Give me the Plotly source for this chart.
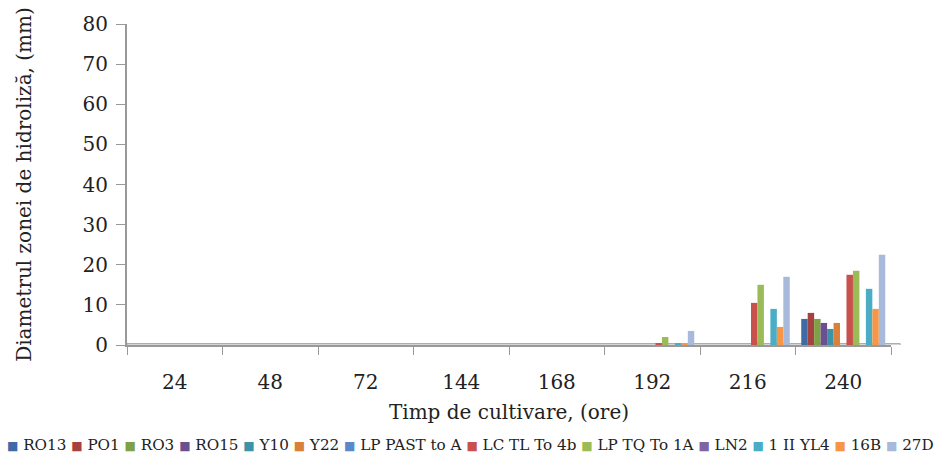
import plotly.graph_objects as go

# Cultivation time categories (hours)
categories = ["24", "48", "72", "144", "168", "192", "216", "240"]

strains = ["RO13", "PO1", "RO3", "RO15", "Y10", "Y22", "LP PAST to A",
           "LC TL To 4b", "LP TQ To 1A", "LN2", "1 II YL4", "16B", "27D"]

# Hydrolysis zone diameter (mm) per strain, one value per category
ro13 = [0, 0, 0, 0, 0, 0, 0, 6.5]
po1 = [0, 0, 0, 0, 0, 0, 0, 8]
ro3 = [0, 0, 0, 0, 0, 0, 0, 6.5]
ro15 = [0, 0, 0, 0, 0, 0, 0, 5.5]
y10 = [0, 0, 0, 0, 0, 0, 0, 4]
y22 = [0, 0, 0, 0, 0, 0, 0, 5.5]
lp_past = [0, 0, 0, 0, 0, 0, 0, 0]
lc_tl = [0, 0, 0, 0, 0, 0.5, 10.5, 17.5]
lp_tq = [0, 0, 0, 0, 0, 2, 15, 18.5]
ln2 = [0, 0, 0, 0, 0, 0, 0, 0]
yl4 = [0, 0, 0, 0, 0, 0.5, 9, 14]
b16 = [0, 0, 0, 0, 0, 0.3, 4.5, 9]
d27 = [0, 0, 0, 0, 0, 3.5, 17, 22.5]

series = [ro13, po1, ro3, ro15, y10, y22, lp_past, lc_tl, lp_tq, ln2, yl4, b16, d27]

colors = ["#3E6BA4", "#A5413E", "#80A046", "#6A5090", "#3A93A8", "#D9803A",
          "#5B89C8", "#C8504D", "#9BBB59", "#8064A2", "#4BACC6", "#F79646", "#A8BADB"]

FONT = "DejaVu Serif"

fig = go.Figure()
for name, vals, col in zip(strains, series, colors):
    fig.add_trace(go.Bar(
        x=categories, y=vals, name=name,
        marker=dict(color=col, line=dict(width=0)),
        showlegend=False,
    ))

# Floor slab under the bars
fig.add_shape(type="rect", xref="paper", yref="y", x0=0, x1=1.012, y0=-0.6, y1=0.35,
              fillcolor="#D9D9D9", line=dict(color="#A6A6A6", width=1), layer="below")

# Legend row built from the series names and colours
legend_text = " ".join(
    f"<span style='color:{c};font-size:12px'>■</span> {n}" for n, c in zip(strains, colors)
)
fig.add_annotation(text=legend_text, xref="paper", yref="paper",
                   x=(470 - 127) / 764, y=-0.31, xanchor="center", yanchor="middle",
                   showarrow=False, font=dict(family=FONT, size=15.2, color="#222222"))

fig.update_layout(
    width=936, height=457,
    margin=dict(l=127, r=45, t=21, b=112),
    paper_bgcolor="white", plot_bgcolor="white",
    barmode="group", bargap=0.12, bargroupgap=0,
    font=dict(family=FONT, size=20, color="#222222"),
    xaxis=dict(
        type="category", tickson="boundaries", ticks="outside", ticklen=8,
        tickcolor="#999999", showline=True, linecolor="#999999", linewidth=2,
        showgrid=False, ticklabelstandoff=18, tickfont=dict(size=20),
        title=dict(text="Timp de cultivare, (ore)", font=dict(size=20), standoff=12),
    ),
    yaxis=dict(
        range=[0, 80], dtick=10, ticks="outside", ticklen=9, tickcolor="#999999",
        showline=True, linecolor="#999999", linewidth=2, showgrid=False, zeroline=False,
        tickfont=dict(size=20), ticklabelstandoff=4,
        title=dict(text="Diametrul zonei de hidroliză, (mm)", font=dict(size=20), standoff=46),
    ),
)

fig.write_html("out.html")
